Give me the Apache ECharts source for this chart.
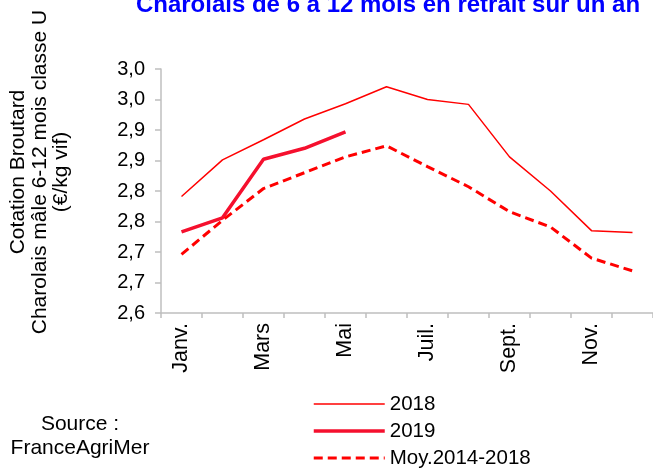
<!DOCTYPE html>
<html><head><meta charset="utf-8">
<script src="https://cdn.jsdelivr.net/npm/echarts@6/dist/echarts.min.js"></script>
<style>html,body{margin:0;padding:0;background:#fff}#c{width:653px;height:468px}</style>
</head><body><div id="c"></div>
<script>
const categories = ['Janv.','Févr.','Mars','Avr.','Mai','Juin','Juil.','Août','Sept.','Oct.','Nov.','Déc.'];
const s2018 = [2.791,2.851,2.884,2.918,2.943,2.971,2.950,2.942,2.856,2.800,2.735,2.732];
const s2019 = [2.733,2.756,2.852,2.870,2.897];
const sMoy = [2.696,2.752,2.804,2.830,2.856,2.874,2.840,2.807,2.766,2.741,2.690,2.669];
const seriesNames = ['2018','2019','Moy.2014-2018'];
const titleText = 'Charolais de 6 à 12 mois en retrait sur un an';
const yTitle = 'Cotation Broutard\nCharolais mâle 6-12 mois classe U\n(€/kg vif)';
const sourceText = 'Source :\nFranceAgriMer';

const FONT = 'Liberation Sans, Arial, sans-serif';
const chart = echarts.init(document.getElementById('c'));
chart.setOption({
  animation:false,
  backgroundColor:'#fff',
  grid:{left:161, top:69, width:504, height:244, containLabel:false},
  graphic:[
    {type:'text', x:388, y:17, style:{text:titleText, textAlign:'center', textVerticalAlign:'bottom', fill:'#0000ff', font:'bold 24px '+FONT}},
    {type:'text', x:40, y:172, rotation:Math.PI/2, style:{text:yTitle, textAlign:'center', textVerticalAlign:'middle', fill:'#000', font:'21px '+FONT, lineHeight:21.5}},
    {type:'text', x:80, y:436, style:{text:sourceText, textAlign:'center', textVerticalAlign:'middle', fill:'#000', font:'21px '+FONT, lineHeight:24}}
  ],
  legend:{
    orient:'vertical', left:307, top:388, height:120, itemWidth:71, itemHeight:14, itemGap:5,
    itemStyle:{opacity:0},
    lineStyle:{width:'inherit'},
    textStyle:{fontFamily:FONT, fontSize:20.5, color:'#000', padding:[0,0,0,0], lineHeight:22},
    data:seriesNames
  },
  xAxis:{
    type:'category', data:categories, boundaryGap:true,
    axisLine:{lineStyle:{color:'#bfbfbf', width:1.5}},
    axisTick:{show:true, interval:0, length:5, lineStyle:{color:'#bfbfbf', width:1.5}},
    axisLabel:{interval:1, rotate:90, margin:10, fontFamily:FONT, fontSize:21.5, color:'#000'}
  },
  yAxis:{
    type:'value', min:2.6, max:3.0, interval:0.05,
    axisLine:{show:true, lineStyle:{color:'#bfbfbf', width:1.5}},
    axisTick:{show:true, length:6, lineStyle:{color:'#bfbfbf', width:1.5}},
    splitLine:{show:false},
    axisLabel:{margin:16, fontFamily:FONT, fontSize:20, color:'#000',
      formatter:v=>(Math.round(v*10+1e-9)/10).toFixed(1).replace('.',',')}
  },
  series:[
    {name:seriesNames[0], type:'line', data:s2018, symbol:'none', lineStyle:{color:'#ff0000', width:1.5}, itemStyle:{color:'#ff0000'}},
    {name:seriesNames[1], type:'line', data:s2019, symbol:'none', lineStyle:{color:'#f5102e', width:3.5}, itemStyle:{color:'#f5102e'}},
    {name:seriesNames[2], type:'line', data:sMoy, symbol:'none', lineStyle:{color:'#ff0000', width:3, type:[9,5]}, itemStyle:{color:'#ff0000'}}
  ]
});
</script></body></html>
